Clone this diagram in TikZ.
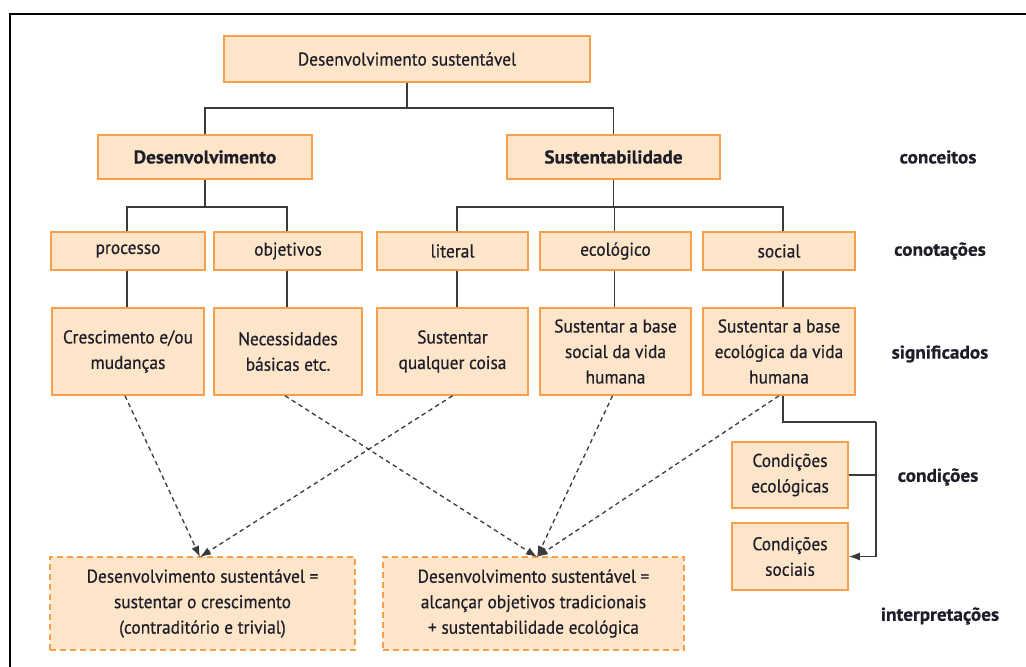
\documentclass[tikz,border=0pt]{standalone}
\usepackage{fontspec}
\setmainfont{PT Sans}[FakeStretch=0.94, FakeBold=0.5, BoldFeatures={FakeStretch=1.04, FakeBold=0.5}]
\usetikzlibrary{arrows.meta}

\definecolor{boxfill}{HTML}{FDE5C9}
\definecolor{boxline}{HTML}{F6A04D}
\definecolor{txt}{HTML}{1E1D28}
\definecolor{wire}{HTML}{3A3A3A}

\tikzset{
  box/.style={draw=boxline, fill=boxfill, line width=1.5pt, text=txt,
    font=\fontsize{18.5}{25.5}\selectfont, align=center, inner sep=0pt},
  headbox/.style={box, font=\fontsize{18.5}{25.5}\selectfont\bfseries},
  interbox/.style={box, dash pattern=on 6pt off 4pt},
  wire/.style={draw=wire, line width=1.3pt},
  hint/.style={draw=wire, line width=1.3pt, dash pattern=on 4.5pt off 3.5pt,
    -{Latex[length=11pt,width=8pt]}},
  level/.style={text=txt, font=\fontsize{18.5}{20}\selectfont\bfseries}
}

\begin{document}
\begin{tikzpicture}[x=1pt,y=-1pt]
\useasboundingbox (0,0) rectangle (1026,667);
\fill[white] (0,0) rectangle (1026,667);
\draw[line width=2.2pt] (10,700) -- (10,14) -- (1060,14);

% concepts
\node[box, minimum width=366pt, minimum height=46pt] (top) at (407,59) {Desenvolvimento sustentável};
\node[headbox, minimum width=214pt, minimum height=44pt] (dev) at (205,157) {Desenvolvimento};
\node[headbox, minimum width=213pt, minimum height=44pt] (sus) at (613.5,157) {Sustentabilidade};

% connotations
\node[box, minimum width=154pt, minimum height=38pt] (proc) at (128,251) {processo};
\node[box, minimum width=148pt, minimum height=38pt] (obj) at (288,251) {objetivos};
\node[box, minimum width=151pt, minimum height=38pt] (lit) at (452.5,251) {literal};
\node[box, minimum width=151pt, minimum height=38pt] (eco) at (615.5,251) {ecológico};
\node[box, minimum width=152pt, minimum height=38pt] (soc) at (779,251) {social};

% meanings
\node[box, minimum width=152pt, minimum height=87pt] (mproc) at (128,351.5) {Crescimento e/ou\\mudanças};
\node[box, minimum width=148pt, minimum height=87pt] (mobj) at (288,351.5) {Necessidades\\básicas etc.};
\node[box, minimum width=151pt, minimum height=87pt] (mlit) at (452.5,351.5) {Sustentar\\qualquer coisa};
\node[box, minimum width=151pt, minimum height=87pt] (meco) at (615.5,351.5) {Sustentar a base\\social da vida\\humana};
\node[box, minimum width=152pt, minimum height=87pt] (msoc) at (779,351.5) {Sustentar a base\\ecológica da vida\\humana};

% conditions
\node[box, minimum width=116pt, minimum height=66pt] (ceco) at (790,475) {Condições\\ecológicas};
\node[box, minimum width=116pt, minimum height=67pt] (csoc) at (790,556.5) {Condições\\sociais};

% interpretations
\node[interbox, minimum width=305pt, minimum height=93pt] (int1) at (202.5,603.5) {Desenvolvimento sustentável =\\sustentar o crescimento\\(contraditório e trivial)};
\node[interbox, minimum width=301pt, minimum height=93pt] (int2) at (533.5,603.5) {Desenvolvimento sustentável =\\alcançar objetivos tradicionais\\+ sustentabilidade ecológica};

% level labels
\node[level] (l1) at (938,157) {conceitos};
\node[level] (l2) at (940,251) {conotações};
\node[level] (l3) at (940,354) {significados};
\node[level] (l4) at (938,477) {condições};
\node[level] (l5) at (940,616) {interpretações};

% tree connectors
\coordinate (j0) at (407,108);
\draw[wire] (top.south) -- (j0) -| (dev.north);
\draw[wire] (j0) -| (sus.north);

\coordinate (j1) at (205,207);
\draw[wire] (dev.south) -- (j1) -| ([xshift=-1pt]proc.north);
\draw[wire] (j1) -| ([xshift=-1pt]obj.north);

\coordinate (j2) at (613.5,207);
\draw[wire] (sus.south) -- (j2) -| ([xshift=4.5pt]lit.north);
\draw[wire] (j2) -| ([xshift=-1pt]eco.north);
\draw[wire] (j2) -| ([xshift=4pt]soc.north);

\draw[wire] ([xshift=-1pt]proc.south) -- ([xshift=-1pt]mproc.north);
\draw[wire] ([xshift=-1pt]obj.south) -- ([xshift=-1pt]mobj.north);
\draw[wire] ([xshift=4.5pt]lit.south) -- ([xshift=4.5pt]mlit.north);
\draw[wire] ([xshift=-1pt]eco.south) -- ([xshift=-1pt]meco.north);
\draw[wire] ([xshift=4pt]soc.south) -- ([xshift=4pt]msoc.north);

% conditions bracket
\coordinate (k1) at (783,422);
\coordinate (k2) at (876,422);
\coordinate (k3) at (876,475);
\draw[wire] ([xshift=4pt]msoc.south) -- (k1) -- (k2);
\draw[wire, -{Latex[length=11pt,width=8pt]}] (k2) |- (csoc.east);
\draw[wire] (ceco.east) -- (k3);

% interpretation hints
\coordinate (t1) at (200,557);
\coordinate (t2) at (537,557);
\draw[hint] ([xshift=-3pt]mproc.south) -- (t1);
\draw[hint] (mlit.south) -- (t1);
\draw[hint] ([xshift=-3pt]mobj.south) -- (t2);
\draw[hint] ([xshift=-3pt]meco.south) -- (t2);
\draw[hint] (msoc.south) -- (t2);
\end{tikzpicture}
\end{document}
